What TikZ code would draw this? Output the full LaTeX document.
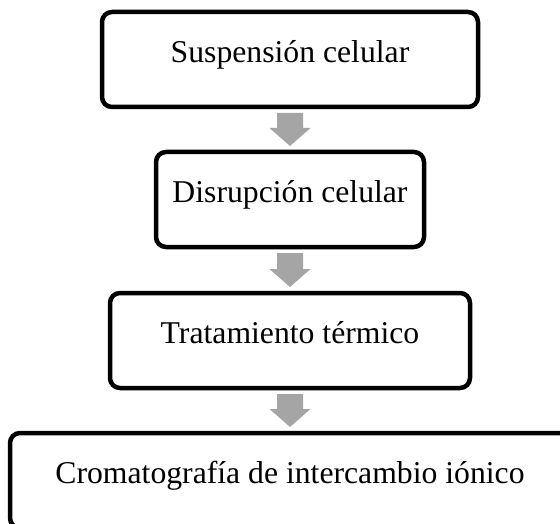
\documentclass[tikz,border=0pt]{standalone}
\usepackage{fontspec}
\setmainfont{Liberation Serif}
\usetikzlibrary{calc}
\definecolor{flowgray}{HTML}{A5A5A5}
\begin{document}
\begin{tikzpicture}[x=1pt,y=-1pt,
  stepbox/.style={draw=black, line width=4.5pt, rounded corners=10pt, fill=white,
    minimum height=95pt, outer sep=0pt, inner sep=0pt,
    font=\fontsize{31.7}{38}\selectfont, text height=0.8em, text depth=0.2em},
  flowarrow/.style={fill=flowgray, draw=none}]
\useasboundingbox (0,0) rectangle (560,524);
\fill[white] (0,0) rectangle (560,524);
\clip (0,0) rectangle (560,524);
\node[stepbox, minimum width=376pt] (s1) at (290,59.5) {Suspensión celular};
\node[stepbox, minimum width=268pt] (s2) at (290,199.5) {Disrupción celular};
\node[stepbox, minimum width=360pt] (s3) at (290,340.5) {Tratamiento térmico};
\node[stepbox, minimum width=560pt] (s4) at (290,480.5) {Cromatografía de intercambio iónico};
\foreach \a/\b in {s1/s2,s2/s3,s3/s4}{
  \fill[flowarrow] ($(\a.south)+(-13,6)$) -- ($(\a.south)+(13,6)$)
    -- ($(\b.north)+(13,-24)$) -- ($(\b.north)+(20.5,-24)$)
    -- ($(\b.north)+(0,-6)$) -- ($(\b.north)+(-20.5,-24)$)
    -- ($(\b.north)+(-13,-24)$) -- cycle;
}
\end{tikzpicture}
\end{document}
